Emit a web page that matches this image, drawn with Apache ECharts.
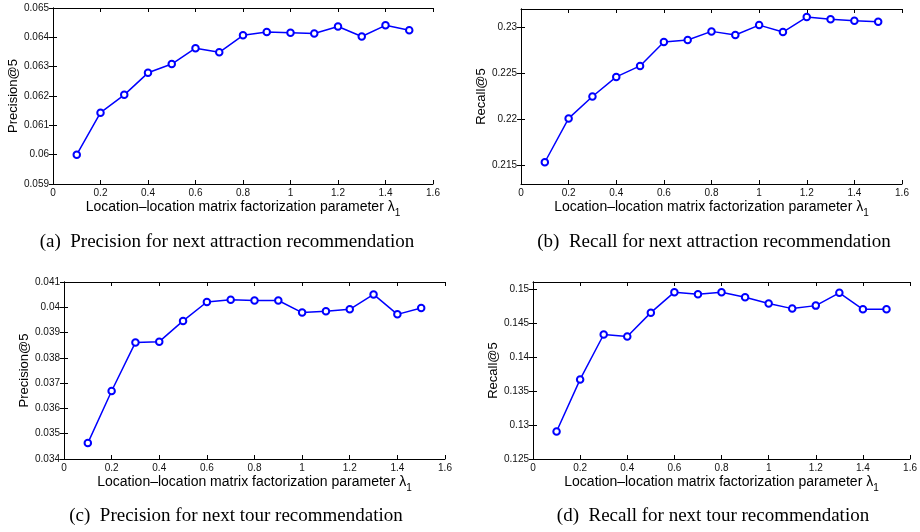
<!DOCTYPE html>
<html>
<head>
<meta charset="utf-8">
<script src="https://cdn.jsdelivr.net/npm/echarts@6/dist/echarts.min.js"></script>
<style>html,body{margin:0;padding:0;background:#fff}#c{width:920px;height:532px}</style>
</head>
<body>
<div id="c"></div>
<script>
const lambdas = [0.1,0.2,0.3,0.4,0.5,0.6,0.7,0.8,0.9,1.0,1.1,1.2,1.3,1.4,1.5];
const precisionAttraction = [0.06000,0.06143,0.06204,0.06279,0.06309,0.06363,0.06349,0.06407,0.06418,0.06416,0.06413,0.06437,0.06403,0.06441,0.06424];
const recallAttraction = [0.21536,0.22012,0.22250,0.22463,0.22582,0.22841,0.22863,0.22957,0.22917,0.23025,0.22950,0.23112,0.23090,0.23072,0.23061];
const precisionTour = [0.03463,0.03669,0.03861,0.03864,0.03946,0.04021,0.04030,0.04027,0.04027,0.03979,0.03984,0.03992,0.04051,0.03972,0.03997];
const recallTour = [0.12904,0.13669,0.14329,0.14300,0.14650,0.14951,0.14921,0.14951,0.14877,0.14783,0.14709,0.14753,0.14941,0.14699,0.14699];
const xTicks = [0,0.2,0.4,0.6,0.8,1.0,1.2,1.4,1.6];
const yTicksA = [0.059,0.060,0.061,0.062,0.063,0.064,0.065];
const yTicksB = [0.215,0.220,0.225,0.230];
const yTicksC = [0.034,0.035,0.036,0.037,0.038,0.039,0.040,0.041];
const yTicksD = [0.125,0.130,0.135,0.140,0.145,0.150];
const yRanges = [[0.059,0.065],[0.213,0.232],[0.034,0.041],[0.125,0.151]];
const yNames = ['Precision@5','Recall@5','Precision@5','Recall@5'];
const captions = ['(a)  Precision for next attraction recommendation','(b)  Recall for next attraction recommendation','(c)  Precision for next tour recommendation','(d)  Recall for next tour recommendation'];
const xName = 'Location–location matrix factorization parameter {l|λ}{s|1}';

const panels = [
  {data: precisionAttraction, ticks: yTicksA, grid: {left:53, top:8, width:380, height:176}, cap:[227,242]},
  {data: recallAttraction, ticks: yTicksB, grid: {left:521, top:9, width:381, height:175}, cap:[714,242]},
  {data: precisionTour, ticks: yTicksC, grid: {left:64, top:282, width:381, height:177}, cap:[236,516]},
  {data: recallTour, ticks: yTicksD, grid: {left:533, top:282, width:381, height:177}, cap:[713,516]}
];

const font = 'Liberation Sans, Arial, sans-serif';
const fmtY = v => String(+(+v).toFixed(4));
const fmtX = v => String(+(+v).toFixed(1));
const grids = [], xAxes = [], yAxes = [], series = [], graphics = [];
panels.forEach((p, i) => {
  grids.push(Object.assign({containLabel:false}, p.grid));
  const common = {min:xTicks[0], max:xTicks[xTicks.length-1], interval:0.2, gridIndex:i, splitLine:{show:false},
    axisLine:{lineStyle:{color:'#000', width:1}},
    axisTick:{inside:true, length:4, lineStyle:{color:'#000'}}};
  xAxes.push(Object.assign({}, common, {type:'value', position:'bottom',
    axisLabel:{formatter:fmtX, fontSize:10, color:'#111', margin:4, fontFamily:font},
    name:xName, nameLocation:'middle', nameGap:13,
    nameTextStyle:{fontSize:14, color:'#000', fontFamily:font,
      rich:{l:{fontSize:14, fontFamily:font, color:'#000'}, s:{fontSize:10, fontFamily:font, color:'#000', padding:[11,0,0,0]}}}}));
  xAxes.push(Object.assign({}, common, {type:'value', position:'top', axisLabel:{show:false}}));
  const ycommon = {type:'value', min:yRanges[i][0], max:yRanges[i][1], gridIndex:i, splitLine:{show:false},
    axisLine:{show:true, lineStyle:{color:'#000', width:1}}};
  yAxes.push(Object.assign({}, ycommon, {position:'left',
    axisTick:{inside:true, length:4, lineStyle:{color:'#000'}, customValues:p.ticks},
    axisLabel:{formatter:fmtY, fontSize:10, color:'#111', margin:4, fontFamily:font, customValues:p.ticks},
    name:yNames[i], nameLocation:'middle', nameGap:29, nameRotate:90,
    nameTextStyle:{fontSize:13, color:'#000', fontFamily:font}}));
  yAxes.push(Object.assign({}, ycommon, {position:'right',
    axisTick:{inside:true, length:4, lineStyle:{color:'#000'}, customValues:p.ticks},
    axisLabel:{show:false}}));
  series.push({type:'line', xAxisIndex:2*i, yAxisIndex:2*i,
    data: lambdas.map((x, k) => [x, p.data[k]]),
    symbol:'emptyCircle', symbolSize:6.5, showSymbol:true,
    lineStyle:{color:'#0000ff', width:1.5}, itemStyle:{color:'#0000ff', borderColor:'#0000ff', borderWidth:1.3},
    animation:false, silent:true});
  graphics.push({type:'text', x:p.cap[0], y:p.cap[1],
    style:{text:captions[i], font:'19px "Liberation Serif", "Times New Roman", serif', fill:'#000', textAlign:'center', textVerticalAlign:'middle'}});
});

const chart = echarts.init(document.getElementById('c'), null, {renderer:'canvas'});
chart.setOption({backgroundColor:'#fff', animation:false, grid:grids, xAxis:xAxes, yAxis:yAxes, series:series, graphic:graphics});
</script>
</body>
</html>
